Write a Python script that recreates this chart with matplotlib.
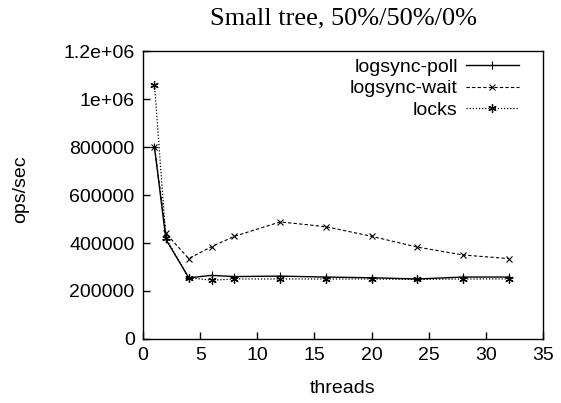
import matplotlib
matplotlib.use("Agg")
import matplotlib.pyplot as plt

threads = [1, 2, 4, 6, 8, 12, 16, 20, 24, 28, 32]
poll = [800000, 415000, 255000, 265000, 260000, 262000, 258000, 255000, 250000, 258000, 258000]
wait = [800000, 440000, 335000, 385000, 428000, 488000, 468000, 428000, 383000, 350000, 335000]
locks = [1060000, 420000, 255000, 245000, 250000, 250000, 250000, 250000, 248000, 250000, 250000]

xticks = [0, 5, 10, 15, 20, 25, 30, 35]
yticks = [0, 200000, 400000, 600000, 800000, 1000000, 1200000]
ylabels = ['0', '200000', '400000', '600000', '800000', '1e+06', '1.2e+06']

plt.rcParams['font.family'] = ['Liberation Sans', 'DejaVu Sans']

fig = plt.figure(figsize=(5.61, 4.03), dpi=100)
ax = fig.add_axes([0.255, 0.159, 0.713, 0.714])

ax.plot(threads, poll, color='black', lw=1, ls='-', marker='+', ms=6, mew=0.8, label='logsync-poll')
ax.plot(threads, wait, color='black', lw=0.8, ls=(0, (3, 2)), marker='x', ms=5, mew=0.8, label='logsync-wait')
ax.plot(threads, locks, color='black', lw=0.9, ls=(0, (1, 1.5)), marker=(6, 2, 0), ms=6, mew=0.9, label='locks')

ax.set_xlim(0, 35)
ax.set_ylim(0, 1200000)
ax.set_xticks(xticks)
ax.set_yticks(yticks)
ax.set_yticklabels(ylabels)
ax.tick_params(direction='in', length=5, width=1, labelsize=14, pad=6)
for s in ax.spines.values():
    s.set_linewidth(1)

ax.set_xlabel('threads', fontsize=14, labelpad=11)
ax.set_ylabel('ops/sec', fontsize=14)
ax.yaxis.set_label_coords(-0.285, 0.52)
ax.set_title('Small tree, 50%/50%/0%', fontsize=19, family='Liberation Serif', pad=19)

ax.legend(loc='upper right', bbox_to_anchor=(0.94, 0.975), frameon=False,
          markerfirst=False, fontsize=14, handlelength=2.75, labelspacing=0.2,
          borderaxespad=0, borderpad=0, handletextpad=0.4)

fig.savefig('out.png', dpi=100)
